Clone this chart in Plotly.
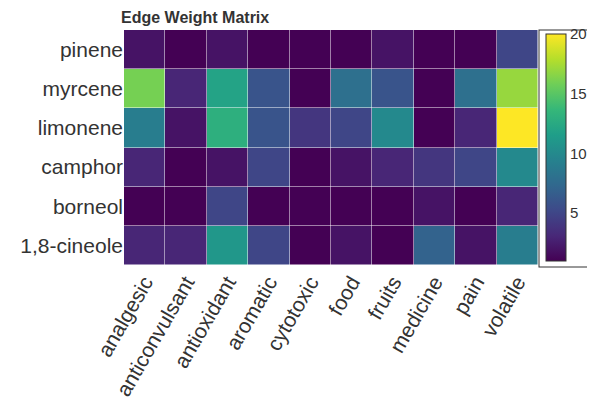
import plotly.graph_objects as go

compounds = ["pinene", "myrcene", "limonene", "camphor", "borneol", "1,8-cineole"]
properties = ["analgesic", "anticonvulsant", "antioxidant", "aromatic", "cytotoxic",
              "food", "fruits", "medicine", "pain", "volatile"]

pinene = [2, 1, 2, 1, 1, 1, 2, 1, 1, 5]
myrcene = [16, 3, 12, 6, 1, 8, 6, 1, 8, 17]
limonene = [9, 2, 13, 6, 4, 5, 10, 1, 3, 20]
camphor = [3, 1, 2, 5, 1, 2, 3, 4, 5, 10]
borneol = [1, 1, 5, 1, 1, 1, 1, 2, 1, 3]
cineole = [3, 3, 11, 5, 1, 2, 1, 7, 2, 9]

z = [pinene, myrcene, limonene, camphor, borneol, cineole]

fig = go.Figure(go.Heatmap(
    z=z, x=properties, y=compounds,
    colorscale="Viridis", zmin=1, zmax=20,
    xgap=0.5, ygap=0.5,
    colorbar=dict(
        tickvals=[5, 10, 15, 20],
        tickfont=dict(size=15, color="#333"),
        thickness=20, len=1.0, y=0.5, yanchor="middle",
        outlinecolor="#333", outlinewidth=1,
        bordercolor="#333", borderwidth=1, xpad=6, ypad=4,
        x=1.005, ticks="",
    ),
))

fig.update_layout(
    width=595, height=404,
    margin=dict(l=113, r=60, t=22, b=134),
    paper_bgcolor="white", plot_bgcolor="white",
    font=dict(family="Liberation Sans, Arial, sans-serif", color="#333"),
    title=dict(text="<b>Edge Weight Matrix</b>", x=0.19, xanchor="left", y=0.99,
               yanchor="top", font=dict(size=16), pad=dict(l=0)),
    xaxis=dict(tickangle=-60, tickfont=dict(size=21), ticks="", showgrid=False),
    yaxis=dict(autorange="reversed", tickfont=dict(size=21), ticks="", showgrid=False),
)

fig.write_html("out.html")
